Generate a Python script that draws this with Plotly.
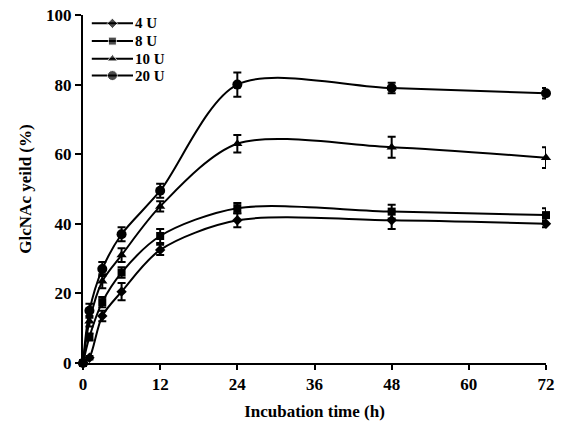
import plotly.graph_objects as go

time_h = [0, 1, 3, 6, 12, 24, 48, 72]
series_names = ["4 U", "8 U", "10 U", "20 U"]
u4 = [0, 1.5, 13.5, 20.5, 32.5, 41, 41, 40]
u4_err = [0.5, 0.5, 1.5, 2.5, 1.5, 2, 2.5, 1]
u8 = [0, 7.5, 17.5, 26, 36.5, 44.5, 43.5, 42.5]
u8_err = [0.5, 1, 1.5, 1.5, 2, 1.5, 2, 2]
u10 = [0, 12, 23.5, 31, 45, 63, 62, 59]
u10_err = [0.5, 1.5, 2, 2, 1.5, 2.5, 3, 3]
u20 = [0, 15, 27, 37, 49.5, 80, 79, 77.5]
u20_err = [0.5, 2, 2, 2, 2, 3.5, 1.5, 1.5]
x_ticks = [0, 12, 24, 36, 48, 60, 72]
y_ticks = [0, 20, 40, 60, 80, 100]

values = [u4, u8, u10, u20]
errors = [u4_err, u8_err, u10_err, u20_err]
symbols = ["diamond", "square", "triangle-up", "circle"]
sizes = [8, 8, 9, 10]

FONT = "Liberation Serif"

fig = go.Figure()
for name, v, e, s, sz in zip(series_names, values, errors, symbols, sizes):
    fig.add_trace(go.Scatter(
        x=time_h, y=v, name=name, mode="lines+markers",
        line=dict(color="black", width=2, shape="spline", smoothing=0.85),
        marker=dict(symbol=s, size=sz, color="black"),
        error_y=dict(type="data", array=e, visible=True, color="black",
                     thickness=2, width=4),
        cliponaxis=False, showlegend=False,
    ))

# Legend drawn in an overlay frame (fractions of the plot area)
leg_x0, leg_x1 = 0.019, 0.108
leg_rows = [0.976, 0.925, 0.874, 0.826]
for name, s, sz, ry in zip(series_names, symbols, sizes, leg_rows):
    fig.add_trace(go.Scatter(
        x=[leg_x0, (leg_x0 + leg_x1) / 2, leg_x1], y=[ry, ry, ry],
        mode="lines+markers", xaxis="x2", yaxis="y2",
        line=dict(color="black", width=2),
        marker=dict(symbol=s, size=[0, sz, 0], color="black"),
        cliponaxis=False, showlegend=False, hoverinfo="skip",
    ))
    fig.add_annotation(x=leg_x1 + 0.002, y=ry, xref="x2", yref="y2",
                       text="<b>%s</b>" % name, showarrow=False,
                       xanchor="left", yanchor="middle", borderpad=0,
                       font=dict(family=FONT, size=15, color="black"))

axis_font = dict(family=FONT, size=17, weight="bold", color="black")
fig.update_layout(
    width=561, height=426,
    margin=dict(l=83, r=15, t=15, b=63),
    paper_bgcolor="white", plot_bgcolor="white",
    font=dict(family=FONT, size=17, color="black"),
    xaxis=dict(range=[0, 72], tickvals=x_ticks, ticktext=[str(t) for t in x_ticks],
               showgrid=False, zeroline=False, showline=True, linecolor="black",
               linewidth=2, ticks="outside", ticklen=5, tickwidth=2,
               tickcolor="black", tickfont=axis_font, automargin=False,
               title=dict(text="Incubation time (h)", font=axis_font, standoff=12)),
    yaxis=dict(range=[0, 100], tickvals=y_ticks,
               showgrid=False, zeroline=False, showline=True, linecolor="black",
               linewidth=2, ticks="outside", ticklen=6, tickwidth=2,
               tickcolor="black", tickfont=axis_font, automargin=False,
               title=dict(text="GlcNAc yeild (%)", font=axis_font, standoff=10)),
    xaxis2=dict(domain=[0, 1], range=[0, 1], overlaying="x", anchor="y2",
                visible=False, fixedrange=True),
    yaxis2=dict(domain=[0, 1], range=[0, 1], overlaying="y", anchor="x2",
                visible=False, fixedrange=True),
)

fig.write_html("out.html", config={"displayModeBar": False},
               post_script="document.body.style.margin='0';document.body.style.overflow='hidden';")
